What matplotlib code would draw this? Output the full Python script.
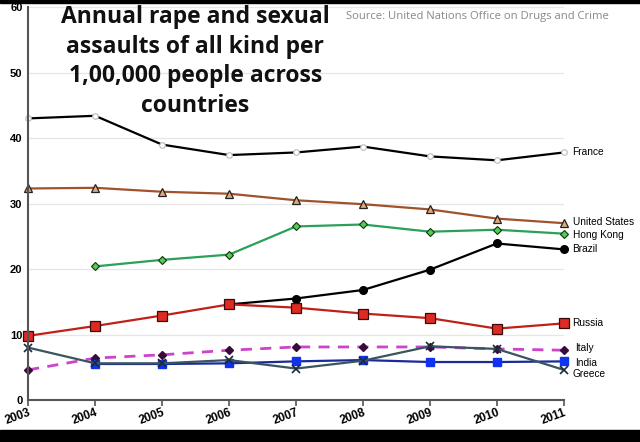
import numpy as np
import matplotlib.pyplot as plt
from matplotlib.patches import Rectangle

# --- data ---
years = [2003, 2004, 2005, 2006, 2007, 2008, 2009, 2010, 2011]
france = [43.0, 43.4, 39.0, 37.4, 37.8, 38.7, 37.2, 36.6, 37.8]
usa = [32.3, 32.4, 31.8, 31.5, 30.5, 29.9, 29.1, 27.7, 27.0]
hong_kong = [np.nan, 20.4, 21.4, 22.2, 26.5, 26.8, 25.7, 26.0, 25.4]
brazil = [np.nan, np.nan, np.nan, 14.6, 15.5, 16.8, 19.9, 23.9, 23.0]
russia = [9.8, 11.3, 12.9, 14.6, 14.1, 13.2, 12.5, 10.9, 11.7]
italy = [4.6, 6.4, 6.9, 7.6, 8.1, 8.1, 8.1, 7.8, 7.6]
india = [np.nan, 5.5, 5.5, 5.6, 5.9, 6.1, 5.8, 5.8, 5.9]
greece = [8.0, 5.6, 5.6, 6.1, 4.8, 6.0, 8.2, 7.8, 4.6]

yticks = [0, 10, 20, 30, 40, 50, 60]

# --- figure ---
fig = plt.figure(figsize=(6.4, 4.42), dpi=100)
ax = fig.add_axes([0.044, 0.095, 0.837, 0.889])

ax.set_xlim(2003, 2011)
ax.set_ylim(0, 60)
ax.set_yticks(yticks)
ax.set_xticks(years)
ax.grid(axis='y', color='#e6e6e6', linewidth=0.9)
ax.set_axisbelow(True)

for s in ['top', 'right']:
    ax.spines[s].set_visible(False)
for s in ['left', 'bottom']:
    ax.spines[s].set_color('#555555')
    ax.spines[s].set_linewidth(1.5)

ax.tick_params(axis='y', length=0, pad=4, labelsize=8)
ax.tick_params(axis='x', length=4, color='#555555', width=1.2, pad=1, labelsize=8.5)
for lab in ax.get_yticklabels():
    lab.set_fontweight('bold')
    lab.set_family('Liberation Sans')
for lab in ax.get_xticklabels():
    lab.set_fontweight('bold')
    lab.set_family('Liberation Sans')
    lab.set_rotation(20)
    lab.set_ha('right')
    lab.set_rotation_mode('anchor')

lw = 1.6
ax.plot(years, france, color='black', lw=lw, marker='o', ms=4,
        mfc='white', mec='#bbbbbb', mew=0.8, clip_on=False)
ax.plot(years, usa, color='#a0522d', lw=lw, marker='^', ms=5.5,
        mfc='#e0a878', mec='#222222', mew=0.9, clip_on=False)
ax.plot(years, hong_kong, color='#2aa05a', lw=lw, marker='D', ms=4.2,
        mfc='#55cc55', mec='#113311', mew=0.8, clip_on=False)
ax.plot(years, brazil, color='black', lw=lw, marker='o', ms=5.5,
        mfc='black', mec='black', clip_on=False)
ax.plot(years, russia, color='#c0201a', lw=lw, marker='s', ms=6.5,
        mfc='#dd2a22', mec='#3a0a0a', mew=0.9, clip_on=False)
ax.plot(years, italy, color='#cc44cc', lw=2, ls=(0, (4, 3)), marker='D', ms=3.8,
        mfc='#3a0a3a', mec='#3a0a3a', clip_on=False)
ax.plot(years, india, color='#1a2a9a', lw=lw, marker='s', ms=5.5,
        mfc='#1133ee', mec='#1133ee', clip_on=False)
ax.plot(years, greece, color='#3a5560', lw=lw, marker='x', ms=5.5,
        mec='#1a2a3a', mew=1.2, clip_on=False)

# series labels at the right end
label_font = dict(fontsize=7.3, family='Liberation Sans', va='center', ha='left',
                  clip_on=False)
labels = [('France', france[-1], 0),
          ('United States', usa[-1], 0.2),
          ('Hong Kong', hong_kong[-1], -0.2),
          ('Brazil', brazil[-1], 0),
          ('Russia', russia[-1], 0),
          ('Italy', italy[-1], 0.3),
          ('India', india[-1], -0.3),
          ('Greece', greece[-1], -0.6)]
for name, val, dy in labels:
    dx = 0.17 if name in ('Italy', 'India') else 0.13
    ax.text(2011 + dx, val + dy, name, **label_font)

# title and source
fig.text(0.305, 0.988, 'Annual rape and sexual\nassaults of all kind per\n1,00,000 people across\ncountries',
         ha='center', va='top', fontsize=16.5, fontweight='bold', family='Open Sans',
         linespacing=1.3, color='#111111')
fig.text(0.54, 0.962, 'Source: United Nations Office on Drugs and Crime',
         ha='left', va='center', fontsize=8.1, family='Open Sans', color='#888888')

# black bands at top and bottom
fig.patches.append(Rectangle((0, 0.993), 1, 0.007, transform=fig.transFigure,
                             color='black', zorder=10))
fig.patches.append(Rectangle((0, 0), 1, 0.027, transform=fig.transFigure,
                             color='black', zorder=10))

fig.savefig('out.png', dpi=100)
